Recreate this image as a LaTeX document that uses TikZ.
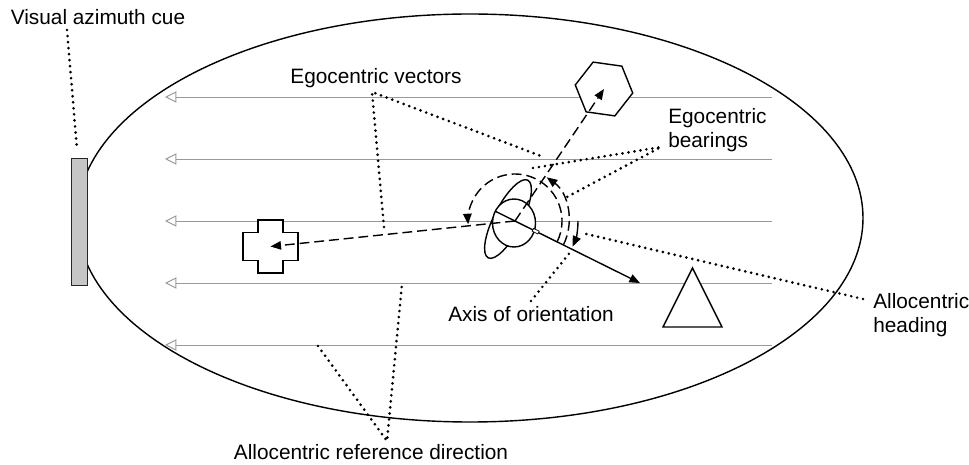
\documentclass[tikz,border=0pt]{standalone}
\usepackage{fontspec}
\setmainfont{Liberation Sans}
\usetikzlibrary{arrows.meta, shapes.geometric}
\tikzset{
>={Triangle[length=7.5pt, width=6pt]}, % filled heads for vectors and arcs
refline/.style={draw=gray!80, line width=0.7pt, -{Triangle[open, length=8pt, width=8pt]}}, % allocentric reference lines
leader/.style={line width=2.1pt, line cap=round, dash pattern=on 0pt off 4.3pt}, % dotted label leaders
egovec/.style={line width=1pt, dash pattern=on 7pt off 3.5pt, ->},
outline/.style={draw, line width=1pt, fill=white},
lbl/.style={inner sep=0pt, font=\fontsize{14.8}{17}\selectfont, align=left},
}
\begin{document}
\begin{tikzpicture}[x=0.025cm, y=-0.025cm]
  \useasboundingbox (0,0) rectangle (969,465);
  % arena and the cue on its wall
  \draw[line width=1pt] (470,218) ellipse [x radius=393, y radius=204];
  \node[draw=gray!30!black, fill=gray!45, line width=0.6pt, minimum width=0.4cm, minimum height=3.175cm, inner sep=0pt] (cue) at (79,221.5) {};
  \foreach \y in {97,159,221,283,345}
    \draw[refline] (772,\y) -- (165,\y);
  % objects
  \node[regular polygon, regular polygon sides=6, minimum size=1.45cm, inner sep=0pt, rotate=-8, outline] (hex) at (604,89) {};
  \coordinate (cross) at (270.5,246.5);
  \draw[outline] ([shift={(-12.5,-26.5)}]cross) -- ++(25,0) -- ++(0,12.5) -- ++(15,0) -- ++(0,28) -- ++(-15,0) -- ++(0,12.5)
    -- ++(-25,0) -- ++(0,-12.5) -- ++(-15,0) -- ++(0,-28) -- ++(15,0) -- cycle;
  \coordinate (tri) at (692.5,268);
  \draw[outline] (tri) -- ++(29.5,59) -- ++(-59,0) -- cycle;
  % the animal
  \coordinate (ctr) at (515,221);
  \coordinate (tail) at (496,211.6);
  \coordinate (tip) at (640,283);
  \draw[outline, shift={(508,219)}, rotate=63] (0,0) ellipse [x radius=43.6, y radius=14];
  \draw[outline] (514,223) ellipse [x radius=21.5, y radius=24];
  \draw[line width=1pt, ->] (tail) -- (tip);
  \node[draw, fill=white, line width=0.5pt, minimum width=4.5pt, minimum height=2.2pt, inner sep=0pt, rotate=-26] (mark) at (535.7,231.2) {};
  % egocentric vectors and bearings
  \draw[egovec] (ctr) -- (hex.center);
  \draw[egovec] (ctr) -- (cross);
  \draw[egovec] ([shift={(26:47)}]ctr) arc [start angle=26, end angle=-184, radius=47];
  \draw[egovec] ([shift={(26:54)}]ctr) arc [start angle=26, end angle=-54, radius=54];
  % allocentric heading
  \draw[line width=1pt, ->] ([shift={(0:63)}]ctr) arc [start angle=0, end angle=24, radius=63];
  % labels
  \node[lbl, anchor=base] (cuelbl) at (98,25) {Visual azimuth cue};
  \node[lbl, anchor=base] (vecslbl) at (376,84) {Egocentric vectors};
  \node[lbl, anchor=west] (bearlbl) at (668,130) {Egocentric\\bearings};
  \node[lbl, anchor=base west] (axislbl) at (448,322) {Axis of orientation};
  \node[lbl, anchor=west] (headlbl) at (873,315) {Allocentric\\heading};
  \node[lbl, anchor=base] (reflbl) at (371,460) {Allocentric reference direction};
  % leaders
  \coordinate (c0) at (67,30);   \coordinate (c1) at (77,149);
  \coordinate (v0) at (372,92);  \coordinate (v1) at (384,227); \coordinate (v2) at (541,156);
  \coordinate (b0) at (661,147); \coordinate (b1) at (533,168); \coordinate (b2) at (565,198);
  \coordinate (a0) at (531,301); \coordinate (a1) at (572,250);
  \coordinate (h0) at (863,299); \coordinate (h1) at (582,233);
  \coordinate (r0) at (387,441); \coordinate (r1) at (318,346); \coordinate (r2) at (402,284);
  \draw[leader] (c0) -- (c1);
  \draw[leader] (v1) -- (v0) -- (v2);
  \draw[leader] (b1) -- (b0) -- (b2);
  \draw[leader] (a0) -- (a1);
  \draw[leader] (h0) -- (h1);
  \draw[leader] (r1) -- (r0) -- (r2);
\end{tikzpicture}
\end{document}
